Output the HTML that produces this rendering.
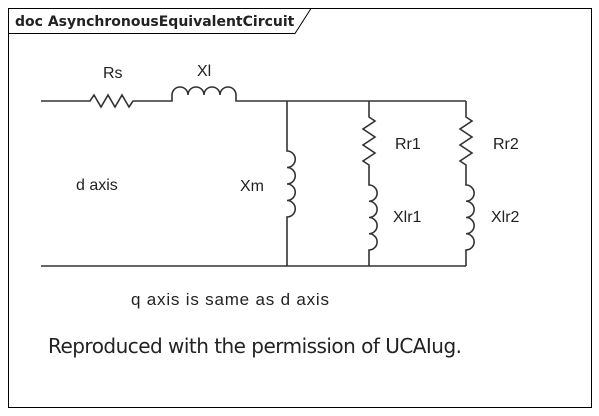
<!DOCTYPE html>
<html><head><style>
body{margin:0;background:#fff;}
svg{display:block;}
text{font-family:"Liberation Sans",sans-serif;fill:#222;}
</style></head><body>
<svg width="599" height="416" viewBox="0 0 599 416">
<rect x="8.5" y="8.5" width="583" height="399" fill="#fff" stroke="#000"/>
<path d="M8.5 33.5 H295 L311 8.5" fill="none" stroke="#000"/>
<text x="15" y="26" font-size="14" font-weight="bold" style="font-family:'DejaVu Sans',sans-serif" fill="#000">doc AsynchronousEquivalentCircuit</text>
<g fill="none" stroke="#333" stroke-width="1.6">
<path d="M41 101 H90 l4 -6 l7 12 l7 -12 l7 12 l7 -12 l7 12 l4 -6 H172 v-6 a8 8 0 0 1 16 0 a8 8 0 0 1 16 0 a8 8 0 0 1 16 0 a8 8 0 0 1 16 0 v6 H466"/>
<path d="M41 266 H466"/>
<path d="M287 101 V151 a8 8 0 0 1 0 16.5 a8 8 0 0 1 0 16.5 a8 8 0 0 1 0 16.5 a8 8 0 0 1 0 16.5 V266"/>
<path d="M369 101 V117 l6 4 l-12 8 l12 8 l-12 8 l12 8 l-12 8 l6 4 V185 a8 8 0 0 1 0 16.25 a8 8 0 0 1 0 16.25 a8 8 0 0 1 0 16.25 a8 8 0 0 1 0 16.25 V266"/>
<path d="M466 101 V117 l6 4 l-12 8 l12 8 l-12 8 l12 8 l-12 8 l6 4 V185 a8 8 0 0 1 0 16.25 a8 8 0 0 1 0 16.25 a8 8 0 0 1 0 16.25 a8 8 0 0 1 0 16.25 V266"/>
</g>
<g font-size="16">
<text x="103" y="78">Rs</text>
<text x="197" y="76">Xl</text>
<text x="76" y="190">d axis</text>
<text x="240" y="191">Xm</text>
<text x="395" y="149">Rr1</text>
<text x="393" y="222">Xlr1</text>
<text x="493" y="149">Rr2</text>
<text x="491" y="222">Xlr2</text>
</g>
<text x="131" y="305" font-size="17" textLength="198">q axis is same as d axis</text>
<text x="48" y="353" font-size="20" style="font-family:'DejaVu Sans',sans-serif" textLength="414">Reproduced with the permission of UCAIug.</text>
</svg>
</body></html>
